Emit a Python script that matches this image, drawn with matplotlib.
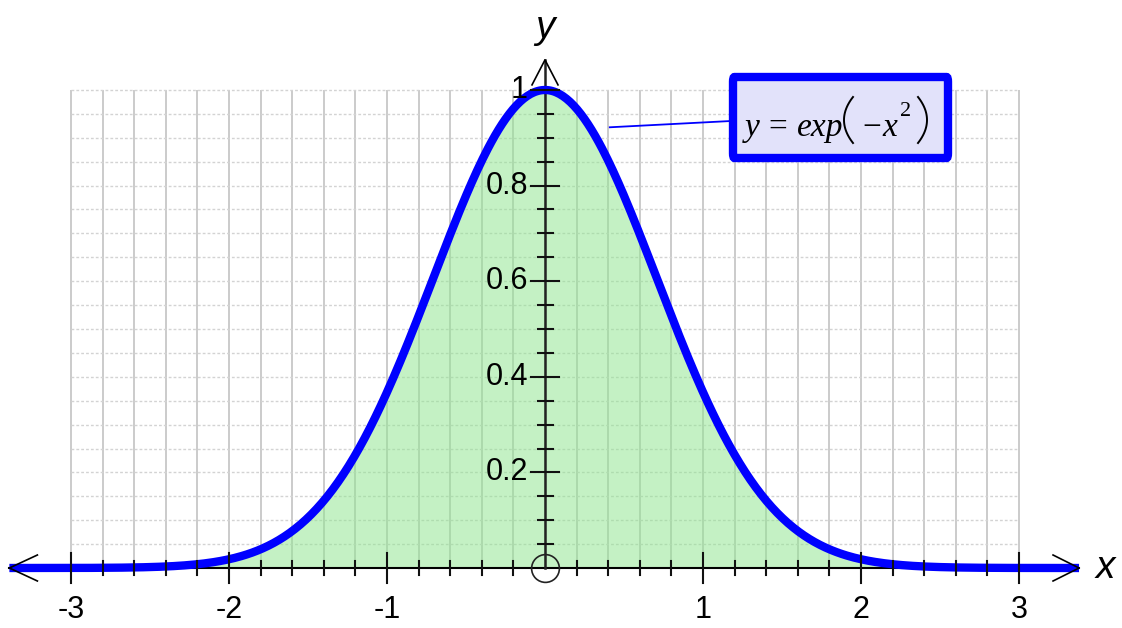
import numpy as np
import matplotlib.pyplot as plt
from matplotlib.patches import FancyBboxPatch

# tick values and labels
x_major = [-3, -2, -1, 1, 2, 3]
x_major_labels = ["-3", "-2", "-1", "1", "2", "3"]
y_major = [0.2, 0.4, 0.6, 0.8, 1.0]
y_major_labels = ["0.2", "0.4", "0.6", "0.8", "1"]

# the plotted function, y = exp(-x^2), over the drawn range
x_start, x_end = -3.39, 3.38
xs = np.linspace(x_start, x_end, 600)
ys = np.exp(-xs ** 2)

# pixel -> data scale (158 px per x unit, 478 px per y unit)
px_x = 1 / 158
px_y = 1 / 478


def dx(px):
    return (px - 545) * px_x


def dy(py):
    return (568 - py) * px_y


fig = plt.figure(figsize=(11.22, 6.28), dpi=100)
ax = fig.add_axes([0, 0, 1, 1])
ax.set_xlim(dx(0), dx(1122))
ax.set_ylim(dy(628), dy(0))
ax.axis("off")

# grid
grid_x = np.round(np.arange(-3, 3.001, 0.2), 2)
grid_y = np.round(np.arange(0.05, 1.001, 0.05), 2)
ax.vlines(grid_x, 0, 1, color="#bdbdbd", lw=1.1, zorder=1)
ax.hlines(grid_y, -3, 3, color="#d3d3d3", lw=1.0, linestyle=(0, (2, 1.5)), zorder=1)

# fill under curve
ax.fill_between(xs, 0, ys, color="#8fe58f", alpha=0.52, lw=0, zorder=2)

# axes lines
ax.plot([x_start, x_end], [0, 0], color="black", lw=1.5, zorder=3)
ax.plot([0, 0], [0, 1.063], color="#222222", lw=1.8, zorder=3)

# curve
ax.plot(xs, ys, color="#0000ff", lw=6, solid_capstyle="butt", zorder=4)

# x ticks
for xv in grid_x:
    if xv == 0:
        continue
    h = 15 if float(xv).is_integer() else 7
    ax.plot([xv, xv], [-h * px_y, h * px_y], color="#111111", lw=1.5, zorder=5)

# y ticks
for yv in grid_y:
    big = abs(yv / 0.2 - round(yv / 0.2)) < 1e-6
    w = 14 if big else 7.5
    ax.plot([-w * px_x, w * px_x], [yv, yv], color="#111111", lw=1.5, zorder=5)

# arrowheads
ax.plot([x_start + 28 * px_x, x_start, x_start + 28 * px_x],
        [13 * px_y, 0, -13 * px_y], color="black", lw=1.2, zorder=5)
ax.plot([x_end - 26 * px_x, x_end, x_end - 26 * px_x],
        [13 * px_y, 0, -13 * px_y], color="black", lw=1.2, zorder=5)
ax.plot([-13 * px_x, 0, 13 * px_x],
        [1.063 - 25 * px_y, 1.063, 1.063 - 25 * px_y], color="black", lw=1.2, zorder=5)

# origin circle
ax.plot([0], [0], marker="o", markersize=20, markerfacecolor="none",
        markeredgecolor="#222222", markeredgewidth=1.2, zorder=6)

# tick labels
for xv, lab in zip(x_major, x_major_labels):
    ax.text(xv, dy(610), lab, ha="center", va="center",
            fontsize=22, family="Liberation Sans", zorder=6)
for yv, lab in zip(y_major, y_major_labels):
    ax.text(-17 * px_x, yv, lab, ha="right", va="center",
            fontsize=22, family="Liberation Sans", zorder=6)

# axis names
ax.text(0, dy(28), "y", ha="center", va="center", fontsize=28,
        style="italic", family="Liberation Sans")
ax.text(dx(1105), 0, "x", ha="center", va="center", fontsize=28,
        style="italic", family="Liberation Sans")

# label box with leader line
ax.plot([0.41, dx(731)], [0.922, dy(121)], color="#0000ff", lw=1.3, zorder=6)
box = FancyBboxPatch((dx(733), dy(158)), dx(948) - dx(733), dy(77) - dy(158),
                     boxstyle="round,pad=0,rounding_size=0.01",
                     facecolor="#e2e2fa", edgecolor="#0000ff", lw=6, zorder=7)
ax.add_patch(box)

# formula, built from pieces so the brackets can be tall
pieces = [
    (745, "y", "italic"),
    (768, "=", "normal"),
    (797, "exp", "italic"),
    (862, "\u2212", "normal"),
    (882, "x", "italic"),
]
for px, s, st in pieces:
    ax.text(dx(px), dy(136), s, ha="left", va="baseline", fontsize=24,
            style=st, family="Liberation Serif", zorder=8)
ax.text(dx(900), dy(116), "2", ha="left", va="baseline",
        fontsize=16, family="Liberation Serif", zorder=8)
# thin tall brackets
t = np.linspace(-1, 1, 40)
ax.plot(dx(844 + 9 * t ** 2), dy(120 + 23 * t), color="black", lw=1.4, zorder=8)
ax.plot(dx(927 - 9 * t ** 2), dy(120 + 23 * t), color="black", lw=1.4, zorder=8)

fig.savefig("out.png", dpi=100)
